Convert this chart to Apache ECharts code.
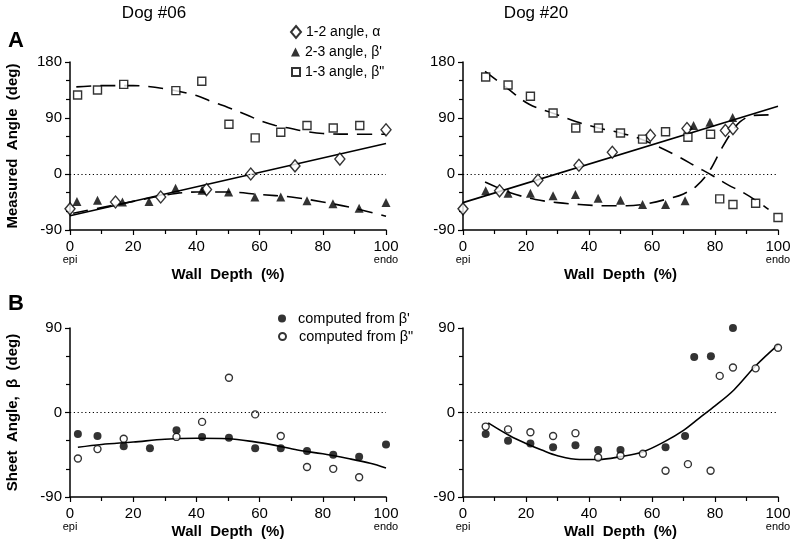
<!DOCTYPE html>
<html>
<head>
<meta charset="utf-8">
<script src="https://cdn.jsdelivr.net/npm/echarts@6/dist/echarts.min.js"></script>
<style>
  html, body { margin: 0; padding: 0; background: #fff; }
  #chart { width: 800px; height: 553px; }
</style>
</head>
<body>
<div id="chart"></div>
<script>
// Dog #06, panel A
var alpha06 = [[0,-56],[14.4,-45],[28.7,-37],[43.2,-25],[57.2,0],[71.2,13],[85.4,24],[100,71]];
var betaP06 = [[2.2,-44],[8.7,-42],[16.6,-45],[25,-44],[33.4,-23],[41.8,-26],[50.2,-29],[58.5,-37],[66.7,-37],[75,-43],[83.2,-48],[91.5,-55],[100,-46]];
var betaPP06 = [[2.4,127],[8.7,135],[17,144],[33.5,134],[41.7,149],[50.3,80],[58.6,58],[66.7,67],[75,78],[83.3,74],[91.7,78]];
var fitAlpha06 = [[0,-67],[100,49]];
var fitBetaP06 = [[1,-63],[10,-54],[20,-44],[30,-34],[40,-29],[50,-29],[60,-33],[70,-37],[80,-45],[90,-55],[100,-68]];
var fitBetaPP06 = [[2,140],[10,142],[20,142],[30,137],[40,126],[45,116],[50,107],[56,95],[60,86],[65,78],[70,73],[75,68],[80,65],[90,64],[100,64]];

// Dog #20, panel A
var alpha20 = [[0,-56],[11.6,-27],[23.8,-10],[36.8,14],[47.4,35],[59.5,62],[71.1,73],[83.3,70],[85.7,73]];
var betaP20 = [[7.2,-27],[14.3,-31],[21.4,-31],[28.6,-35],[35.7,-33],[42.9,-39],[50,-42],[57,-49],[64.3,-49],[70.5,-43],[73.2,78],[78.4,83],[85.6,91]];
var betaPP20 = [[7.2,156],[14.3,143],[21.4,125],[28.6,98],[35.8,74],[43,74],[50,66],[57,56],[64.3,68],[71.4,59],[78.6,64],[81.5,-40],[85.7,-49],[92.9,-47],[100,-70]];
var fitAlpha20 = [[0,-46],[100,109]];
var fitBetaP20 = [[7,-13],[15,-30],[23,-41],[30,-46],[37,-49],[45,-51],[52,-51],[58,-48],[65,-40],[70,-32],[74,-20],[78,3],[82,40],[85,65],[88,84],[92,94],[97,95]];
var fitBetaPP20 = [[7,165],[14,138],[21,112],[29,97],[36,84],[43,74],[50,66],[56,57],[62,44],[68,29],[74,12],[79,-2],[84,-17],[89,-30],[94,-46],[97,-57]];

// panel B, sheet angle
var sheetBP06 = [[2.5,-23],[8.7,-25],[17,-36],[25.3,-38],[33.7,-19],[41.8,-26],[50.3,-27],[58.6,-38],[66.7,-38],[75,-41],[83.3,-45],[91.5,-47],[100,-34]];
var sheetBPP06 = [[2.5,-49],[8.7,-39],[17,-28],[33.7,-26],[41.8,-10],[50.3,37],[58.6,-2],[66.7,-25],[75,-58],[83.3,-60],[91.5,-69]];
var fitSheet06 = [[2.5,-37],[10,-34],[20,-31.5],[30,-28.5],[40,-27.5],[50,-28],[58,-31],[65,-35],[72,-40],[80,-44],[88,-49],[95,-54],[100,-59]];
var sheetBP20 = [[7.2,-23],[14.3,-30],[21.4,-33],[28.6,-37],[35.7,-35],[42.9,-40],[50,-40],[64.3,-37],[70.5,-25],[73.4,59],[78.7,60],[85.7,90]];
var sheetBPP20 = [[7.2,-15],[14.3,-18],[21.4,-21],[28.6,-25],[35.7,-22],[42.9,-48],[50,-46],[57.1,-44],[64.3,-62],[71.4,-55],[78.6,-62],[81.5,39],[85.7,48],[92.9,47],[100,69]];
var fitSheet20 = [[8,-11],[15,-25],[20,-33],[25,-40],[30,-46],[37,-50],[43,-50],[50,-47],[57,-42],[64,-31],[70,-19],[75,-6],[80,7],[86,24],[93,50],[100,72]];

var xTicks = {0: 'epi', 100: 'endo'};
var FONT = 'Liberation Sans, Arial, Helvetica, sans-serif';

var chart = echarts.init(document.getElementById('chart'));

function xAxis(gi, gap) {
  return {
    gridIndex: gi, type: 'value', min: 0, max: 100, interval: 20,
    name: 'Wall  Depth  (%)', nameLocation: 'middle', nameGap: gap, nameMoveOverlap: false,
    nameTextStyle: { fontWeight: 'bold', fontSize: 15, color: '#000', fontFamily: FONT },
    axisLine: { onZero: false, lineStyle: { color: '#000', width: 1.5 } },
    axisTick: { length: 5, lineStyle: { color: '#000', width: 1.2 } },
    minorTick: { show: true, splitNumber: 2, length: 4, lineStyle: { color: '#000', width: 1.2 } },
    splitLine: { show: false },
    axisLabel: {
      margin: 9, color: '#000', fontFamily: FONT,
      formatter: function (v) {
        return xTicks[v] ? '{v|' + v + '}\n{s|' + xTicks[v] + '}' : '{v|' + v + '}';
      },
      rich: {
        v: { fontSize: 15, lineHeight: 15, color: '#000', fontFamily: FONT },
        s: { fontSize: 11, lineHeight: 11, color: '#000', fontFamily: FONT }
      }
    }
  };
}

function yAxis(gi, min, max, name) {
  return {
    gridIndex: gi, type: 'value', min: min, max: max, interval: 90,
    name: name, nameLocation: 'middle', nameGap: 50, nameMoveOverlap: false,
    nameTextStyle: { fontWeight: 'bold', fontSize: 15, color: '#000', fontFamily: FONT },
    axisLine: { show: true, onZero: false, lineStyle: { color: '#000', width: 1.5 } },
    axisTick: { show: true, length: 5, lineStyle: { color: '#000', width: 1.2 } },
    minorTick: { show: true, splitNumber: 3, length: 4, lineStyle: { color: '#000', width: 1.2 } },
    splitLine: { show: false },
    axisLabel: { margin: 8, fontSize: 15, color: '#000', fontFamily: FONT }
  };
}

var zeroLine = {
  silent: true, symbol: 'none', label: { show: false },
  lineStyle: { type: [1.2, 2.6], color: '#000', width: 1 },
  data: [[{ coord: [0, 0] }, { coord: [100, 0] }]]
};

function fit(gi, data, dashed, withZero) {
  var s = {
    type: 'line', xAxisIndex: gi, yAxisIndex: gi, data: data,
    showSymbol: false, smooth: 0.35, z: 2, silent: true,
    lineStyle: { color: '#000', width: 1.6, type: dashed ? [15, 9] : 'solid' }
  };
  if (withZero) s.markLine = zeroLine;
  return s;
}

function pts(gi, name, data, symbol, size, filled) {
  return {
    type: 'scatter', name: name, xAxisIndex: gi, yAxisIndex: gi, data: data,
    symbol: symbol, symbolSize: size, z: 3,
    itemStyle: filled ? { color: '#000' } : { color: '#fff', borderColor: '#000', borderWidth: 1.4 }
  };
}

function leg(name, left, top, w, h, fs, pad) {
  return {
    data: [name], left: left, top: top, padding: 0, itemWidth: w, itemHeight: h,
    selectedMode: false,
    textStyle: { fontSize: fs, color: '#000', fontFamily: FONT, padding: [0, 0, 0, pad] }
  };
}

var option = {
  animation: false,
  backgroundColor: '#fff',
  textStyle: { fontFamily: FONT },
  grid: [
    { left: 70, top: 62, width: 316, height: 168 },
    { left: 463, top: 62, width: 315, height: 168 },
    { left: 70, top: 328, width: 316, height: 169 },
    { left: 463, top: 328, width: 315, height: 169 }
  ],
  xAxis: [xAxis(0, 37), xAxis(1, 37), xAxis(2, 27), xAxis(3, 27)],
  yAxis: [
    yAxis(0, -90, 180, 'Measured  Angle  (deg)'),
    yAxis(1, -90, 180, ''),
    yAxis(2, -90, 90, 'Sheet  Angle,  β  (deg)'),
    yAxis(3, -90, 90, '')
  ],
  legend: [
    leg('1-2 angle, α', 290, 25, 10, 12, 14, 0),
    leg("2-3 angle, β'", 291, 45, 9, 9, 14, 0),
    leg('1-3 angle, β"', 291, 65, 8, 8, 14, 0),
    leg("computed from β'", 278, 311, 8, 8, 14.5, 7),
    leg('computed from β"', 278, 329, 7, 7, 14.5, 8)
  ],
  graphic: [
    { type: 'text', x: 154, y: 13, style: { text: 'Dog #06', font: '17px ' + FONT, fill: '#000', align: 'center', verticalAlign: 'middle' } },
    { type: 'text', x: 536, y: 13, style: { text: 'Dog #20', font: '17px ' + FONT, fill: '#000', align: 'center', verticalAlign: 'middle' } },
    { type: 'text', x: 16, y: 41, style: { text: 'A', font: 'bold 22px ' + FONT, fill: '#000', align: 'center', verticalAlign: 'middle' } },
    { type: 'text', x: 16, y: 304, style: { text: 'B', font: 'bold 22px ' + FONT, fill: '#000', align: 'center', verticalAlign: 'middle' } }
  ],
  series: [
    fit(0, fitAlpha06, false, true),
    fit(0, fitBetaP06, true),
    fit(0, fitBetaPP06, true),
    pts(0, '1-2 angle, α', alpha06, 'diamond', [10, 12], false),
    pts(0, "2-3 angle, β'", betaP06, 'triangle', 9, true),
    pts(0, '1-3 angle, β"', betaPP06, 'rect', 8, false),

    fit(1, fitAlpha20, false, true),
    fit(1, fitBetaP20, true),
    fit(1, fitBetaPP20, true),
    pts(1, 'alpha20', alpha20, 'diamond', [10, 12], false),
    pts(1, 'betaP20', betaP20, 'triangle', 9, true),
    pts(1, 'betaPP20', betaPP20, 'rect', 8, false),

    fit(2, fitSheet06, false, true),
    pts(2, "computed from β'", sheetBP06, 'circle', 8, true),
    pts(2, 'computed from β"', sheetBPP06, 'circle', 7, false),

    fit(3, fitSheet20, false, true),
    pts(3, 'sheetBP20', sheetBP20, 'circle', 8, true),
    pts(3, 'sheetBPP20', sheetBPP20, 'circle', 7, false)
  ]
};

chart.setOption(option);
</script>
</body>
</html>
